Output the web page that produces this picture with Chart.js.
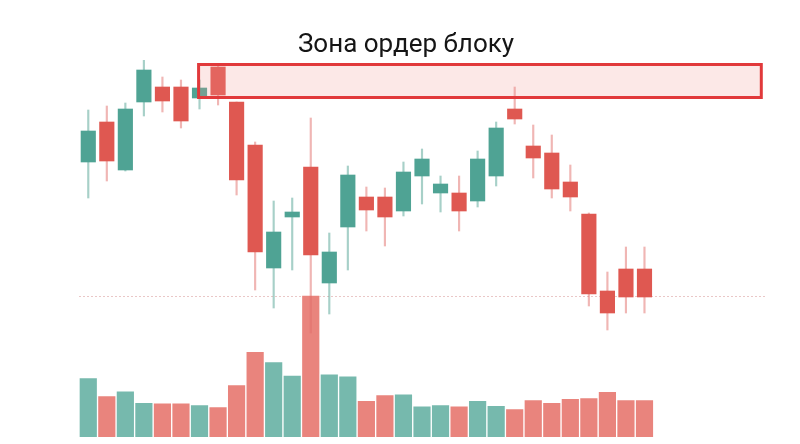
<!DOCTYPE html>
<html>
<head>
<meta charset="utf-8">
<script src="https://cdn.jsdelivr.net/npm/chart.js@4.4.1/dist/chart.umd.min.js"></script>
<style>
  html, body { margin: 0; padding: 0; background: #fff; }
  #wrap { width: 800px; height: 444px; }
</style>
</head>
<body>
<div id="wrap"><canvas id="chart"></canvas></div>
<script>
'use strict';

// ─── Data ─────────────────────────────────────────────────────────────────────

const titleText = 'Зона ордер блоку';

// 31 sessions plus 6 empty slots on the right
const labels = Array.from({ length: 37 }, (_, i) => 'Д' + (i + 1));

const opens  = [63.4, 67.4, 62.6, 69.4, 70.9, 70.9, 69.8, 72.9, 69.4, 65.1,
                52.8, 57.9, 62.9, 51.3, 56.9, 59.9, 59.9, 58.5, 62.0, 60.3,
                60.3, 59.5, 62.0, 68.7, 65.0, 64.3, 61.4, 58.2, 50.5, 52.7, 52.7];
const highs  = [68.6, 69.0, 69.3, 73.6, 71.9, 71.6, 71.6, 73.1, 69.4, 65.4,
                59.5, 59.8, 67.8, 56.3, 63.0, 60.9, 60.8, 63.4, 64.7, 62.0,
                62.0, 64.5, 67.4, 70.9, 67.1, 66.1, 63.1, 58.3, 52.4, 54.9, 54.9];
const lows   = [59.8, 61.5, 62.5, 68.0, 68.4, 66.8, 68.7, 69.1, 60.1, 50.6,
                48.8, 52.6, 46.3, 48.2, 52.6, 56.5, 55.0, 58.0, 59.2, 58.4,
                56.5, 58.9, 61.0, 67.2, 61.8, 59.8, 58.5, 49.0, 46.6, 48.3, 48.3];
const closes = [66.5, 63.5, 68.7, 72.6, 69.5, 67.5, 70.8, 70.1, 61.6, 54.4,
                56.4, 58.4, 54.1, 54.4, 62.1, 58.6, 57.9, 62.4, 63.7, 61.2,
                58.5, 63.7, 66.8, 67.7, 63.8, 60.7, 59.9, 50.2, 48.3, 49.9, 49.9];
const volumes = [1780, 1240, 1380, 1040, 1020, 1020, 970, 910, 1570, 2560,
                 2260, 1850, 4250, 1890, 1830, 1100, 1270, 1290, 930, 970,
                 930, 1100, 950, 850, 1120, 1040, 1160, 1180, 1370, 1120, 1120];

// order block zone (category positions and price bounds)
const zoneFrom = 5.95;
const zoneTo   = 36.3;
const zoneHigh = 73.15;
const zoneLow  = 69.85;

const supportLevel = 50;

// ─── Colours ──────────────────────────────────────────────────────────────────

const UP      = '#4fa394';
const DOWN    = '#df5851';
const UP_WICK = 'rgba(95,170,155,0.55)';
const DN_WICK = 'rgba(225,110,105,0.5)';
const UP_VOL  = '#76b9ad';
const DN_VOL  = '#e9847d';

const isUp = opens.map((o, i) => closes[i] >= o);

// ─── Plugins ──────────────────────────────────────────────────────────────────

const zonePlugin = {
  id: 'zone',
  afterDatasetsDraw(chart) {
    const { ctx, scales: { x, y } } = chart;
    const left   = x.getPixelForValue(zoneFrom);
    const right  = x.getPixelForValue(zoneTo);
    const top    = y.getPixelForValue(zoneHigh);
    const bottom = y.getPixelForValue(zoneLow);
    ctx.save();
    ctx.fillStyle = 'rgba(240,150,145,0.22)';
    ctx.fillRect(left, top, right - left, bottom - top);
    ctx.strokeStyle = '#e1393b';
    ctx.lineWidth = 3;
    ctx.strokeRect(left, top, right - left, bottom - top);
    ctx.restore();
  },
};

const titlePlugin = {
  id: 'titleText',
  afterDraw(chart) {
    const { ctx } = chart;
    ctx.save();
    ctx.font = '26px Roboto, "Liberation Sans", sans-serif';
    ctx.fillStyle = '#151515';
    ctx.textAlign = 'center';
    ctx.textBaseline = 'alphabetic';
    ctx.fillText(titleText, chart.width / 2 + 6, 52);
    ctx.restore();
  },
};

// ─── Chart ────────────────────────────────────────────────────────────────────

new Chart(document.getElementById('chart'), {
  type: 'bar',
  data: {
    labels,
    datasets: [
      {
        label: 'Тіло',
        data: opens.map((o, i) => [o, closes[i]]),
        backgroundColor: isUp.map(u => (u ? UP : DOWN)),
        barThickness: 14.5,
        grouped: false,
        yAxisID: 'y',
        order: 1,
      },
      {
        label: 'Тінь',
        data: lows.map((l, i) => [l, highs[i]]),
        backgroundColor: isUp.map(u => (u ? UP_WICK : DN_WICK)),
        barThickness: 1.5,
        grouped: false,
        yAxisID: 'y',
        order: 2,
      },
      {
        label: 'Обсяг',
        data: volumes,
        backgroundColor: isUp.map(u => (u ? UP_VOL : DN_VOL)),
        borderColor: 'rgba(255,255,255,0.55)',
        borderWidth: 1,
        categoryPercentage: 1,
        barPercentage: 1,
        grouped: false,
        yAxisID: 'yv',
        order: 3,
      },
    ],
  },
  options: {
    responsive: true,
    maintainAspectRatio: false,
    animation: false,
    layout: { padding: { top: 60, left: 79, right: 35, bottom: 7 } },
    scales: {
      x: { display: false },
      y: {
        min: 35.9,
        max: 73.6,
        afterBuildTicks: axis => { axis.ticks = [{ value: supportLevel }]; },
        ticks: { display: false },
        grid: { color: 'rgba(225,175,175,0.7)', lineWidth: 1, drawTicks: false },
        border: { display: false, dash: [2, 2] },
      },
      yv: {
        display: false,
        min: 0,
        max: 11280,
      },
    },
    plugins: {
      legend: { display: false },
      tooltip: { enabled: false },
      title: { display: false },
    },
  },
  plugins: [zonePlugin, titlePlugin],
});
</script>
</body>
</html>
